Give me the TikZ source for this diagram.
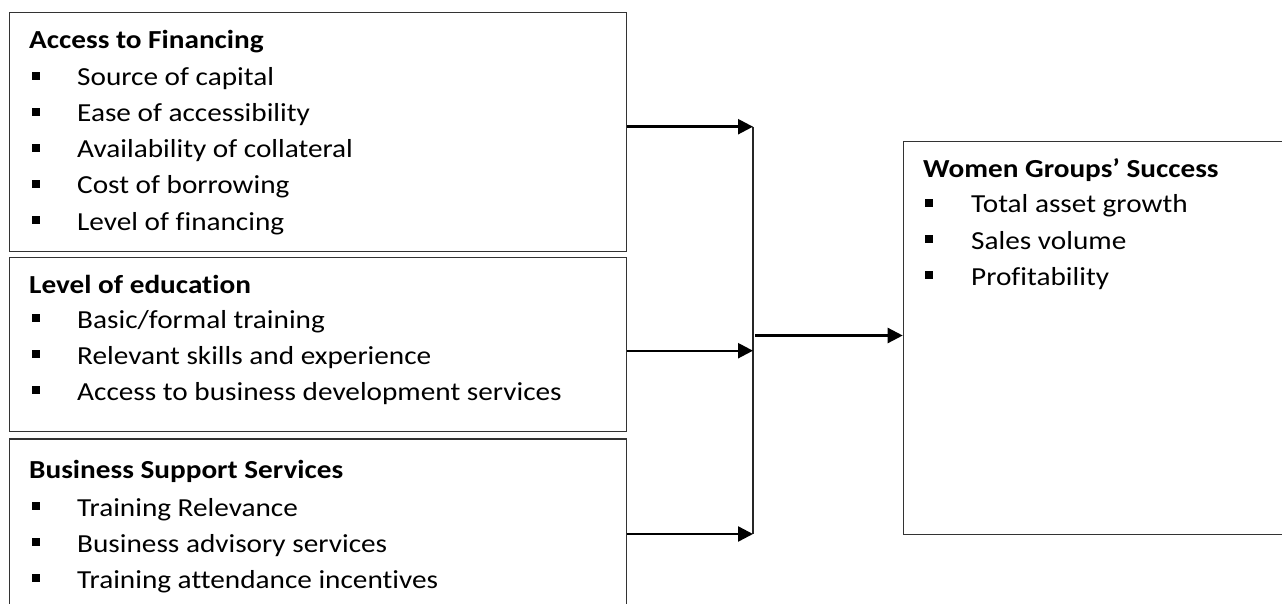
\documentclass[tikz,border=0pt]{standalone}
\usepackage{fontspec}
\setmainfont{Carlito}[FakeStretch=1.125,Ligatures=NoCommon]
\usetikzlibrary{arrows.meta}
\begin{document}
\begin{tikzpicture}[x=1pt,y=-1pt,
  box/.style={draw=black!80,line width=1.2pt,inner sep=0pt,anchor=north west},
  ttl/.style={anchor=base west,inner sep=0pt,font=\fontsize{26}{30}\selectfont\bfseries},
  itm/.style={anchor=base west,inner sep=0pt,font=\fontsize{26}{30}\selectfont},
  blt/.style={fill=black,inner sep=0pt,minimum size=8.3pt,anchor=center},
  arr/.style={line width=2.4pt,-{Triangle[length=15pt,width=15pt]}},
  link/.style={line width=1.3pt,draw=black!85}]
\useasboundingbox (0,0) rectangle (1282,604);
\clip (0,0) rectangle (1282,604);
% boxes
\node[box,minimum width=617pt,minimum height=238.4pt] (b1) at (9,12.3) {};
\node[box,minimum width=617pt,minimum height=174pt] (b2) at (9,256.7) {};
\node[box,minimum width=617pt,minimum height=200pt] (b3) at (9,438.3) {};
\node[box,minimum width=420pt,minimum height=393.3pt] (rb) at (902.7,140.7) {};
% box 1
\node[ttl] (t1) at (29,49) {Access to Financing};
\foreach \y/\txt [count=\k] in {86/Source of capital,122/Ease of accessibility,158/Availability of collateral,194/Cost of borrowing,230/Level of financing}{
  \node[blt] (bu1-\k) at (36,\y-10) {};
  \node[itm] (it1-\k) at (77,\y) {\txt};
}
% box 2
\node[ttl] (t2) at (29,293) {Level of education};
\foreach \y/\txt [count=\k] in {328/Basic\slash formal training,364/Relevant skills and experience,400/Access to business development services}{
  \node[blt] (bu2-\k) at (36,\y-10) {};
  \node[itm] (it2-\k) at (77,\y) {\txt};
}
% box 3
\node[ttl] (t3) at (29,478) {Business Support Services};
\foreach \y/\txt [count=\k] in {516/Training Relevance,552/Business advisory services,588/Training attendance incentives}{
  \node[blt] (bu3-\k) at (36,\y-10) {};
  \node[itm] (it3-\k) at (77,\y) {\txt};
}
% right box
\node[ttl] (t4) at (923,178) {Women Groups’ Success};
\foreach \y/\txt [count=\k] in {213/Total asset growth,249/Sales volume,285/Profitability}{
  \node[blt] (bu4-\k) at (929,\y-10) {};
  \node[itm] (it4-\k) at (971,\y) {\txt};
}
% connectors
\coordinate (j1) at (753,126.7);
\coordinate (j2) at (753,350.7);
\coordinate (j3) at (753,534);
\coordinate (m) at (755,335.5);
\draw[link] (j1) -- (j3);
\draw[arr] (b1.east |- j1) -- (j1);
\draw[arr] (b2.east |- j2) -- (j2);
\draw[arr] (b3.east |- j3) -- (j3);
\draw[arr] (m) -- (rb.west |- m);
\end{tikzpicture}
\end{document}
